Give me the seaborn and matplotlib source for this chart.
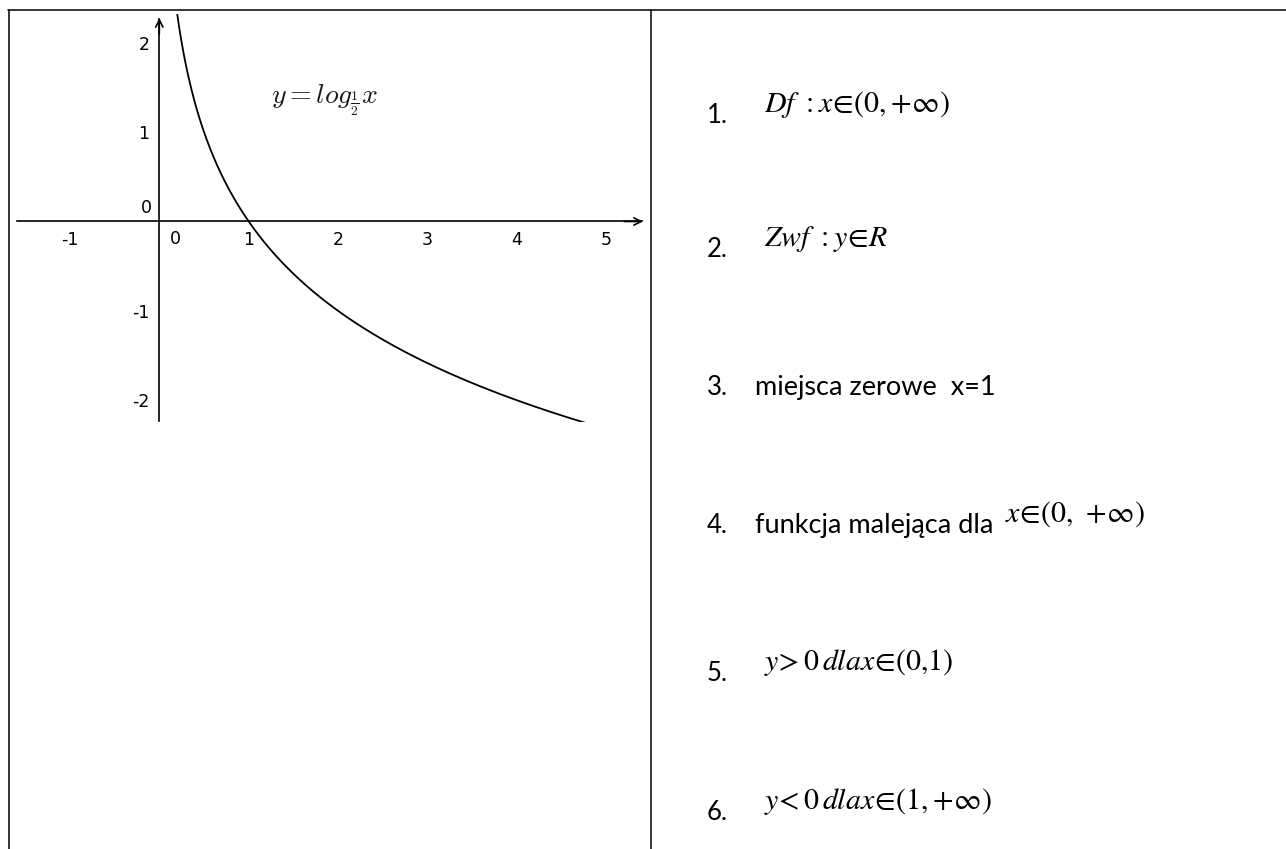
import numpy as np
import matplotlib
matplotlib.use("Agg")
import matplotlib.pyplot as plt
from matplotlib.lines import Line2D
import seaborn as sns

sns.set_theme(style="white")
plt.rcParams["font.family"] = ["DejaVu Sans"]
plt.rcParams["mathtext.fontset"] = "stix"

W, H, DPI = 1286, 849, 100

# function y = log_base(x)
base = 0.5
curve_x = np.linspace(0.12, 5.4, 800)
curve_y = np.log(curve_x) / np.log(base)

x_ticks = [-1, 1, 2, 3, 4, 5]
y_ticks = [-2, -1, 1, 2]
x_view = (-1.592, 5.466)
y_view = (-2.243, 2.321)

# numbered list of properties
item_numbers = ["1.", "2.", "3.", "4.", "5.", "6."]
item_texts = ["", "", "miejsca zerowe  x=1", "funkcja malejąca dla", "", ""]
item_formulas = [
    r"$Df\ :x\!\in\!\left(0,\!+\!\infty\right)$",
    r"$Zwf\ :y\!\in\!R$",
    "",
    r"$x\!\in\!\left(0,\,+\!\infty\right)$",
    r"$y\!>0\,dla x\!\in\!\left(0{,}1\right)$",
    r"$y\!<0\,dla x\!\in\!\left(1,\!+\!\infty\right)$",
]
item_baselines = [123, 257, 395, 533, 681, 820]

fig = plt.figure(figsize=(W / DPI, H / DPI), dpi=DPI)
fig.patch.set_facecolor("white")


def fx(px):
    return px / W


def fy(py):
    return 1 - py / H


# table frame
frame_kw = dict(color="black", lw=1.1, transform=fig.transFigure)
fig.add_artist(Line2D([fx(8), fx(1286)], [fy(9.5), fy(9.5)], **frame_kw))
fig.add_artist(Line2D([fx(8.5), fx(8.5)], [fy(9.5), fy(849)], **frame_kw))
fig.add_artist(Line2D([fx(651), fx(651)], [fy(9.5), fy(849)], **frame_kw))

# graph of the function
ax = fig.add_axes([fx(17), fy(422), (648 - 17) / W, (422 - 14) / H])
ax.set_facecolor("none")
sns.lineplot(x=curve_x, y=curve_y, ax=ax, color="black", lw=1.3, sort=False)
ax.set_xlim(*x_view)
ax.set_ylim(*y_view)

for side in ("top", "right"):
    ax.spines[side].set_visible(False)
ax.spines["left"].set_position(("data", 0))
ax.spines["bottom"].set_position(("data", 0))
ax.spines["left"].set_bounds(-2.232, 2.27)
ax.spines["bottom"].set_bounds(x_view[0], 5.40)
for side in ("left", "bottom"):
    ax.spines[side].set_color("black")
    ax.spines[side].set_linewidth(1.2)

ax.set_xticks(x_ticks)
ax.set_yticks(y_ticks)
ax.set_xticklabels([str(v) for v in x_ticks])
ax.set_yticklabels([str(v) for v in y_ticks])
ax.tick_params(axis="both", direction="out", length=4, width=1.0,
               color="black", labelsize=12.5, labelcolor="black", pad=3)
ax.grid(False)

arrow_kw = dict(arrowstyle="->", lw=1.2, color="black", shrinkA=0, shrinkB=0,
                mutation_scale=13)
ax.annotate("", xy=(5.41, 0), xytext=(5.2, 0), arrowprops=arrow_kw,
            annotation_clip=False)
ax.annotate("", xy=(0, 2.276), xytext=(0, 2.1), arrowprops=arrow_kw,
            annotation_clip=False)

# origin labels
ax.text(-0.08, 0.05, "0", ha="right", va="bottom", fontsize=12.5, color="black")
ax.text(0.12, -0.09, "0", ha="left", va="top", fontsize=12.5, color="black")

ax.text(1.246, 1.329, r"$y = log_{\frac{1}{2}}x$", ha="left", va="baseline",
        fontsize=20, color="#1a1a1a", math_fontfamily="cm")

# right column
list_font = ["Lato", "DejaVu Sans"]
for num, txt, formula, base_y in zip(item_numbers, item_texts, item_formulas,
                                     item_baselines):
    fig.text(fx(707), fy(base_y), num, ha="left", va="baseline",
             fontsize=18.5, family=list_font, color="black")
    x_formula = 764
    if txt:
        t = fig.text(fx(755), fy(base_y), txt, ha="left", va="baseline",
                     fontsize=19.5, family=list_font, color="black")
        fig.canvas.draw()
        bb = t.get_window_extent()
        x_formula = bb.x1 + 12
    if formula:
        fig.text(fx(x_formula), fy(base_y - 11), formula, ha="left",
                 va="baseline", fontsize=21.5, color="black")

fig.savefig("out.png", dpi=DPI, facecolor="white")
